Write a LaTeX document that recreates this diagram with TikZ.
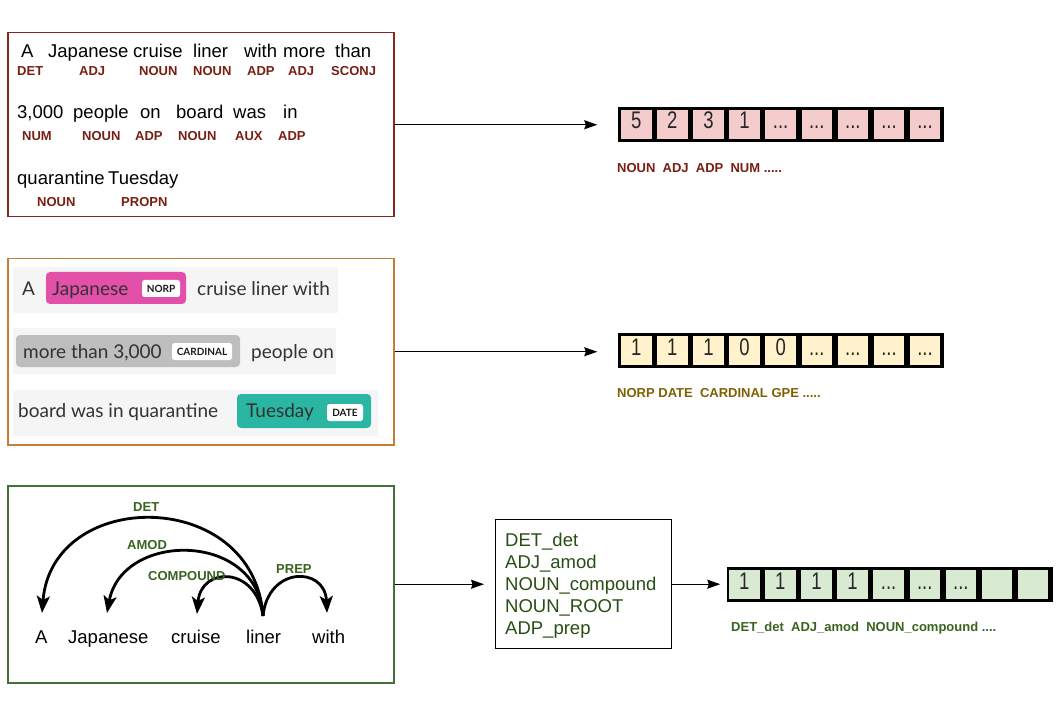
\documentclass[tikz,border=0pt]{standalone}
\usepackage{fontspec}
\setmainfont{Liberation Sans}
\newfontfamily\lato{Lato}
\usetikzlibrary{arrows.meta,calc}
\definecolor{posred}{RGB}{120,30,18}
\definecolor{boxred}{RGB}{133,40,30}
\definecolor{boxorange}{RGB}{200,125,50}
\definecolor{entolive}{RGB}{127,96,0}
\definecolor{boxgreen}{RGB}{70,110,55}
\definecolor{depgreen}{RGB}{56,100,30}
\definecolor{listgreen}{RGB}{39,78,19}
\definecolor{cellpink}{RGB}{244,204,204}
\definecolor{cellyellow}{RGB}{255,242,204}
\definecolor{cellgreen}{RGB}{217,234,211}
\definecolor{rowgray}{RGB}{245,245,245}
\definecolor{normpink}{RGB}{227,80,170}
\definecolor{cardgray}{RGB}{190,190,190}
\definecolor{dateteal}{RGB}{43,182,164}
\definecolor{dtext}{RGB}{50,50,50}
\newcommand\eldots{...}
\tikzset{
  wd/.style={font=\fontsize{18.5}{22}\selectfont, inner sep=0, anchor=base west},
  poslab/.style={font=\bfseries\fontsize{13}{15}\selectfont, text=posred, inner sep=0, anchor=base west},
  deplab/.style={font=\bfseries\fontsize{13}{15}\selectfont, text=depgreen, inner sep=0, anchor=base west},
  frame/.style={draw=#1, line width=1.5pt, anchor=north west, inner sep=0},
  flow/.style={line width=1.3pt, -{Stealth[length=13pt,width=9pt,inset=1.5pt]}},
  arcline/.style={line width=2.8pt, -{Stealth[length=17pt,width=13pt,inset=4pt]}},
  arrbg/.style={fill=black, inner sep=0, minimum width=326, minimum height=35},
  cellbox/.style={fill=#1, inner sep=0, minimum width=30.5, minimum height=29.5,
     text height=17, text depth=8,
     font=\fontsize{18.5}{22}\selectfont, text=black!85},
  ent/.style={font=\lato\fontsize{19}{22}\selectfont, text=dtext, inner sep=0, anchor=base west},
  tag/.style={fill=white, rounded corners=2.5pt, inner sep=0, font=\lato\bfseries\fontsize{10}{11}\selectfont, text=black!90},
}
\begin{document}
\begin{tikzpicture}[x=1pt,y=-1pt]
\useasboundingbox (0,0) rectangle (1059,708);

% ---------- Box 1: POS ----------
\node[frame=boxred, minimum width=386, minimum height=184] (box1) at (7,32) {};
\node[wd] (p1) at (21,58) {A};
\node[wd] (p2) at (48,58) {Japanese};
\node[wd] (p3) at (133,58) {cruise};
\node[wd] (p4) at (193,58) {liner};
\node[wd] (p5) at (244,58) {with};
\node[wd] (p6) at (283,58) {more};
\node[wd] (p7) at (335,58) {than};
\node[poslab] (l1) at (17,75.3) {DET};
\node[poslab] (l2) at (79,75.3) {ADJ};
\node[poslab] (l3) at (139,75.3) {NOUN};
\node[poslab] (l4) at (193,75.3) {NOUN};
\node[poslab] (l5) at (247,75.3) {ADP};
\node[poslab] (l6) at (288,75.3) {ADJ};
\node[poslab] (l7) at (331,75.3) {SCONJ};
\node[wd] (p8) at (17,119) {3,000};
\node[wd] (p9) at (73,119) {people};
\node[wd] (p10) at (140,119) {on};
\node[wd] (p11) at (176,119) {board};
\node[wd] (p12) at (233,119) {was};
\node[wd] (p13) at (283,119) {in};
\node[poslab] (l8) at (22,140.7) {NUM};
\node[poslab] (l9) at (82,140.7) {NOUN};
\node[poslab] (l10) at (135,140.7) {ADP};
\node[poslab] (l11) at (178,140.7) {NOUN};
\node[poslab] (l12) at (235,140.7) {AUX};
\node[poslab] (l13) at (278,140.7) {ADP};
\node[wd] (p14) at (17,185) {quarantine};
\node[wd] (p15) at (108,185) {Tuesday};
\node[poslab] (l14) at (37,206.7) {NOUN};
\node[poslab] (l15) at (121,206.7) {PROPN};

% array 1
\node[arrbg] (arr1) at (780.5,124.5) {};
\foreach \v [count=\i, evaluate=\i as \x using 636.25+(\i-1)*36.1] in {5,2,3,1,\eldots,\eldots,\eldots,\eldots,\eldots}
  \node[cellbox=cellpink] (a1c\i) at (\x,124.5) {\scalebox{1}[1.3]{\v}};
\node[poslab] (a1lab) at (617,173) {NOUN\ \ ADJ\ \ ADP\ \ NUM .....};
\draw[flow, shorten >=20pt] (box1.east) -- (box1.east -| arr1.west);

% ---------- Box 2: NER ----------
\node[frame=boxorange, minimum width=386, minimum height=186] (box2) at (7,258) {};
\fill[rowgray] (13,267) rectangle (338,313);
\fill[rowgray] (13,328) rectangle (336,374);
\fill[rowgray] (13,390) rectangle (378,436);
\fill[normpink, rounded corners=4pt] (46,272) rectangle (186,304);
\fill[cardgray, rounded corners=4pt] (16,335) rectangle (240,367);
\fill[dateteal, rounded corners=4pt] (237,394) rectangle (371,428);
\node[ent] (e1) at (22,295) {A};
\node[ent] (e2) at (52,295) {Japanese};
\node[tag, minimum width=38, minimum height=17] (t1) at (161,288.5) {NORP};
\node[ent] (e3) at (197,295) {cruise liner with};
\node[ent] (e4) at (23,358) {more than 3,000};
\node[tag, minimum width=60, minimum height=17] (t2) at (202,351.5) {CARDINAL};
\node[ent] (e5) at (251,358) {people on};
\node[ent] (e6) at (18,417.7) {board was in quarantine};
\node[ent] (e7) at (246,417.7) {Tuesday};
\node[tag, minimum width=36, minimum height=17] (t3) at (345,412.5) {DATE};

% array 2
\node[arrbg] (arr2) at (780.5,350.5) {};
\foreach \v [count=\i, evaluate=\i as \x using 636.25+(\i-1)*36.1] in {1,1,1,0,0,\eldots,\eldots,\eldots,\eldots}
  \node[cellbox=cellyellow] (a2c\i) at (\x,350.5) {\scalebox{1}[1.3]{\v}};
\node[poslab, text=entolive] (a2lab) at (617,397) {NORP DATE\ \ CARDINAL GPE .....};
\draw[flow, shorten >=20pt] (box2.east) -- (box2.east -| arr2.west);

% ---------- Box 3: dependency ----------
\node[frame=boxgreen, minimum width=386, minimum height=197] (box3) at (7,485) {};
\node[wd] (dA) at (35,643) {A};
\node[wd] (dJ) at (68,643) {Japanese};
\node[wd] (dC) at (171,643) {cruise};
\node[wd] (dL) at (246,643) {liner};
\node[wd] (dW) at (312,643) {with};
\coordinate (rt) at (263,616);
\coordinate (eA) at (42,613);
\coordinate (eJ) at (107,613);
\coordinate (eC) at (197,614);
\coordinate (eW) at (327,613);
\draw[arcline] (rt) .. controls (254,487) and (52,487) .. (eA);
\draw[arcline] (rt) .. controls (258,531) and (122,531) .. (eJ);
\draw[arcline] (rt) .. controls (256,566) and (201,566) .. (eC);
\draw[arcline] (rt) .. controls (268,566) and (325,566) .. (eW);
\node[deplab] (g1) at (133,511.7) {DET};
\node[deplab] (g2) at (127,549) {AMOD};
\node[deplab] (g3) at (148,580) {COMPOUND};
\node[deplab] (g4) at (276,573) {PREP};

% box 4
\node[draw=black, line width=1.4pt, anchor=north west, minimum width=176, minimum height=129, inner sep=0] (box4) at (495,519) {};
\node[wd, text=listgreen] (k1) at (505,546) {DET\_det};
\node[wd, text=listgreen] (k2) at (505,568) {ADJ\_amod};
\node[wd, text=listgreen] (k3) at (505,590) {NOUN\_compound};
\node[wd, text=listgreen] (k4) at (505,612) {NOUN\_ROOT};
\node[wd, text=listgreen] (k5) at (505,634) {ADP\_prep};
\draw[flow, shorten >=11pt] (box3.east) -- (box3.east -| box4.west);

% array 3
\node[arrbg] (arr3) at (889.5,584.5) {};
\foreach \v [count=\i, evaluate=\i as \x using 744.25+(\i-1)*36.1] in {1,1,1,1,\eldots,\eldots,\eldots,{},{}}
  \node[cellbox=cellgreen] (a3c\i) at (\x,584.5) {\scalebox{1}[1.3]{\v}};
\node[deplab] (a3lab) at (731,631.7) {DET\_det\ \ ADJ\_amod\ \ NOUN\_compound ....};
\draw[flow, shorten >=6pt] (box4.east) -- (box4.east -| arr3.west);
\end{tikzpicture}
\end{document}
